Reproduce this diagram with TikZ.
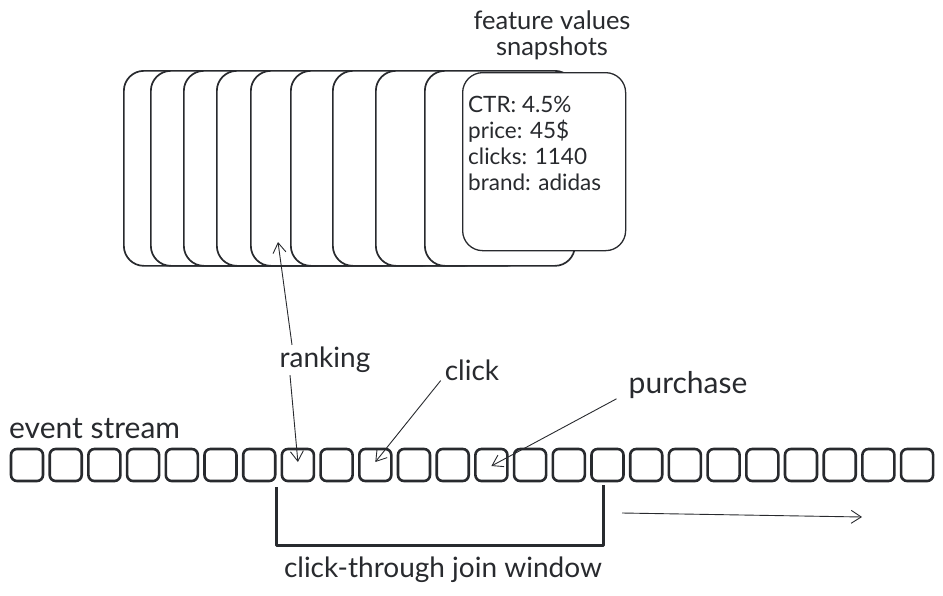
\documentclass[tikz,border=0pt]{standalone}
\usepackage{fontspec}
\setmainfont{Lato}
\usetikzlibrary{arrows.meta}
\definecolor{ink}{RGB}{40,42,46}
\begin{document}
\begin{tikzpicture}[x=1pt,y=-1pt,
  card/.style={draw=ink, line width=1.7pt, fill=white, rounded corners=20pt,
    minimum width=150pt, minimum height=195pt, anchor=north west, inner sep=0pt},
  frontcard/.style={card, line width=1.3pt, minimum width=163pt, minimum height=178pt},
  evbox/.style={draw=ink, line width=2.6pt, rounded corners=6pt, minimum size=32pt, inner sep=0pt},
  lbl/.style={text=ink, font=\fontsize{28}{30}\selectfont, inner sep=2pt},
  cardtxt/.style={text=ink, font=\fontsize{22.5}{26}\selectfont, align=left, anchor=north west, inner sep=0pt},
  arr/.style={draw=ink, line width=0.9pt, -{Straight Barb[length=10pt,width=13pt]}},
  bracket/.style={draw=ink, line width=3pt, line join=round}
]
\useasboundingbox (0,0) rectangle (943,595);

% snapshot cards
\foreach \x [count=\k] in {123,150,183,216,250,290,332,375,424}
  \node[card] (c\k) at (\x,70) {};
\node[frontcard] (front) at (462,72) {};
\node[cardtxt] (vals) at ([xshift=6pt,yshift=-24pt]front.north west)
  {CTR: 4.5\%\\price: 45\$\\clicks: 1140\\brand: adidas};
\node[text=ink, font=\fontsize{25.5}{26}\selectfont, align=center] (title) at (552,35)
  {feature values\\snapshots};

% event stream
\foreach \i in {0,...,23}
  \node[evbox] (e\i) at (27+38.7*\i,465) {};
\node[lbl, anchor=west, font=\fontsize{30}{32}\selectfont] (es) at (7,429) {event stream};

% labels
\node[lbl] (rk) at (325,360) {ranking};
\node[lbl] (ck) at (472,370) {click};
\node[lbl, font=\fontsize{30}{32}\selectfont] (pu) at (688,385) {purchase};

% arrows
\coordinate (rkup) at (278,242);
\draw[arr] ([xshift=-33pt]rk.north) -- (rkup);
\draw[arr] ([xshift=-35pt]rk.south) -- ([yshift=3pt]e7.center);
\draw[arr] ([xshift=-2pt,yshift=2pt]ck.south west) -- ([yshift=3pt]e9.center);
\draw[arr] ([xshift=-10pt,yshift=2pt]pu.south west) -- ([yshift=-1pt]e12.center);

% join window bracket
\coordinate (wl) at (276,487);
\coordinate (wbl) at (276,545);
\coordinate (wbr) at (603,545);
\coordinate (wr) at (603,485);
\draw[bracket] (wl) -- (wbl) -- (wbr) -- (wr);
\node[lbl] (jw) at (443,570) {click-through join window};

% time arrow
\coordinate (ta) at (622,513);
\coordinate (tb) at (862,517);
\draw[arr] (ta) -- (tb);
\end{tikzpicture}
\end{document}
